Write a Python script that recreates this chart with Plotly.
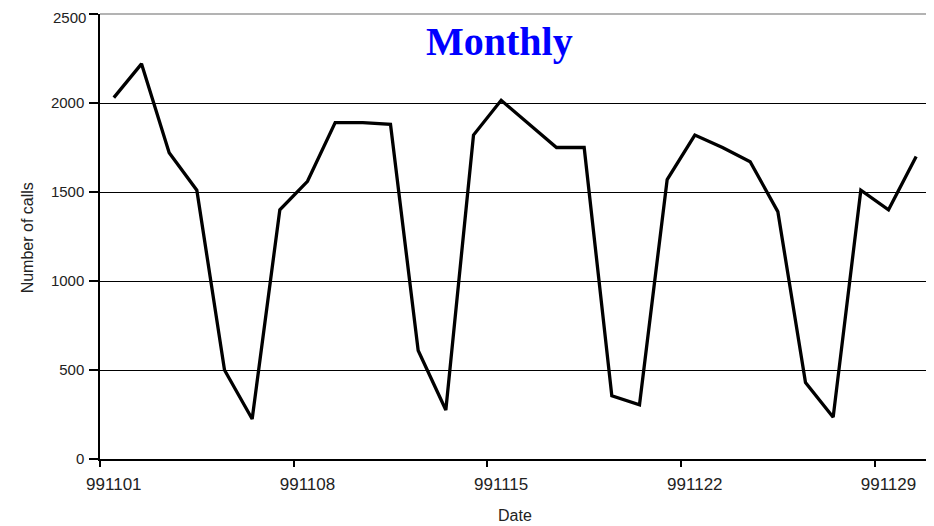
import plotly.graph_objects as go

dates = ["9911%02d" % d for d in range(1, 31)]
calls = [2030, 2220, 1720, 1510, 500, 225, 1400, 1560, 1890, 1890,
         1880, 610, 275, 1820, 2015, 1880, 1750, 1750, 355, 305,
         1570, 1820, 1750, 1670, 1390, 430, 235, 1510, 1400, 1700]
y_ticks = [0, 500, 1000, 1500, 2000, 2500]
label_every = 7

x_idx = list(range(len(dates)))
label_pos = x_idx[::label_every]
label_text = [dates[i] for i in label_pos]
tick_bounds = [i - 0.5 for i in label_pos]
# the top label sits at the page edge; it is drawn as an annotation so it is not clipped
y_text = [str(v) for v in y_ticks[:-1]] + [""]
top_label = str(y_ticks[-1])

fig = go.Figure()
fig.add_trace(go.Scatter(x=x_idx, y=calls, mode="lines",
                         line=dict(color="black", width=3.3),
                         hoverinfo="skip", showlegend=False))

# page body has an 8px default margin, so the figure is offset by 8px
fig.update_layout(
    width=926, height=518,
    margin=dict(l=92, r=4, t=6, b=67),
    paper_bgcolor="white", plot_bgcolor="white",
    showlegend=False,
    xaxis=dict(range=[-0.5, len(dates) - 0.5], tickmode="array",
               tickvals=label_pos, ticktext=label_text, ticks="",
               showgrid=False, zeroline=False, showline=True, automargin=False,
               linecolor="black", linewidth=1.5, ticklabelstandoff=9,
               tickfont=dict(family="Liberation Sans", size=17, color="#222"),
               minor=dict(tickmode="array", tickvals=tick_bounds,
                          ticks="outside", ticklen=6, tickcolor="black",
                          tickwidth=1.5, showgrid=False)),
    yaxis=dict(range=[0, y_ticks[-1]], tickmode="array", tickvals=y_ticks,
               ticktext=y_text,
               ticks="outside", ticklen=9, tickcolor="black", tickwidth=1.5,
               showgrid=True, gridcolor="black", gridwidth=1.3, automargin=False,
               zeroline=False, showline=True, linecolor="black", linewidth=1.5,
               ticklabelstandoff=2,
               tickfont=dict(family="Liberation Sans", size=15, color="#222")),
    shapes=[
        dict(type="line", xref="paper", yref="paper", x0=0, x1=1, y0=1, y1=1,
             line=dict(color="#9a9a9a", width=1.5), layer="above"),
        dict(type="line", xref="paper", yref="paper", x0=1, x1=1, y0=0, y1=1,
             line=dict(color="#9a9a9a", width=1.5), layer="above"),
    ],
    annotations=[
        dict(text=top_label, xref="paper", yref="paper",
             x=0, y=1, xanchor="right", yanchor="top", xshift=-13, yshift=6,
             showarrow=False, borderpad=0,
             font=dict(family="Liberation Sans", size=15, color="#222")),
        dict(text="<b>Monthly</b>", xref="paper", yref="paper",
             x=0.481, y=0.939, xanchor="center", yanchor="middle",
             showarrow=False,
             font=dict(family="Liberation Serif", size=40, color="#0000ff")),
        dict(text="Date", xref="paper", yref="paper",
             x=0.50, y=-0.128, xanchor="center", yanchor="middle",
             showarrow=False,
             font=dict(family="Liberation Sans", size=16, color="#222")),
        dict(text="Number of calls", xref="paper", yref="paper",
             x=-0.088, y=0.498, xanchor="center", yanchor="middle",
             textangle=-90, showarrow=False,
             font=dict(family="Liberation Sans", size=16, color="#222")),
    ],
)

fig.write_html("out.html")
